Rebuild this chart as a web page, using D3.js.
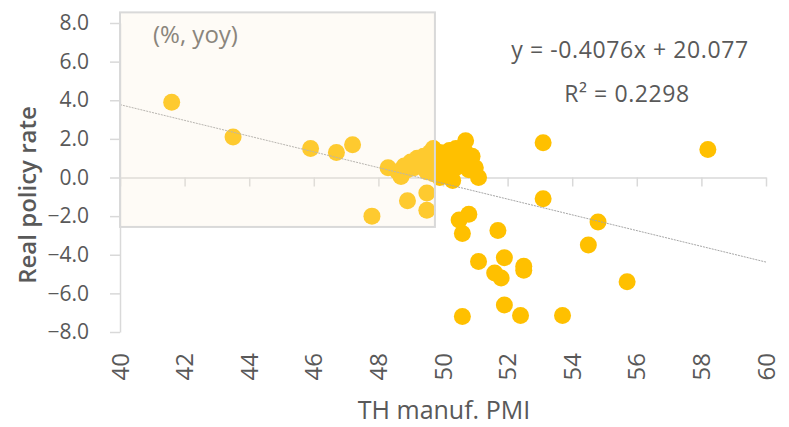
<!DOCTYPE html>
<html lang="en">
<head>
<meta charset="UTF-8">
<title>Real policy rate vs TH manuf. PMI</title>
<script src="https://d3js.org/d3.v7.min.js"></script>
<style>
  body { margin: 0; background: #fff; }
  text { font-family: "Open Sans", "Noto Sans", sans-serif; fill: #595959; }
</style>
</head>
<body>
<script>
// TH manufacturing PMI (x) and real policy rate (y)
var pmi = [
  41.6, 43.5, 45.9, 46.7, 47.2, 47.8, 48.3, 48.7, 48.9, 49.5, 49.5,
  53.1, 58.2, 53.1, 54.8, 54.5, 55.7, 50.5, 50.8, 50.6, 51.7, 51.1,
  51.9, 51.6, 51.8, 52.5, 52.5, 51.9, 52.4, 53.7, 50.6,
  48.6, 48.8, 48.9, 49.0, 49.1, 49.2, 49.3, 49.4, 49.5, 49.5, 49.6,
  49.6, 49.7, 49.7, 49.8, 49.9, 49.9, 50.0, 50.1, 50.2, 50.2, 50.3,
  50.4, 50.4, 50.5, 50.6, 50.7, 50.7, 50.8, 50.9, 51.0, 51.1, 50.3
];
var realRate = [
  3.9, 2.1, 1.5, 1.3, 1.7, -2.0, 0.5, 0.05, -1.2, -1.7, -0.8,
  1.8, 1.45, -1.1, -2.3, -3.5, -5.4, -2.2, -1.9, -2.9, -2.75, -4.35,
  -4.15, -4.95, -5.2, -4.6, -4.8, -6.6, -7.15, -7.15, -7.2,
  0.3, 0.6, 0.4, 0.8, 0.5, 1.0, 0.7, 1.1, 0.3, 0.9, 1.3,
  0.6, 1.5, 0.2, 1.0, 0.0, 1.3, 0.6, 1.2, 0.3, 1.4, 0.9,
  1.5, 0.5, 1.1, 0.7, 1.9, 1.3, 0.4, 1.1, 0.5, 0.0, -0.15
];

var xTicks = [40, 42, 44, 46, 48, 50, 52, 54, 56, 58, 60];
var yTicks = [8, 6, 4, 2, 0, -2, -4, -6, -8];

// linear trend shown on the chart
var slope = -0.4076, intercept = 20.077;
var eqLabel = "y = -0.4076x + 20.077";
var r2Label = "R\u00b2 = 0.2298";

// shaded annotation box (data coords)
var boxX = [40, 49.75], boxY = [-2.56, 8.55];

var width = 789, height = 427;
var x = d3.scaleLinear().domain([40, 60]).range([120, 766]);
var y = d3.scaleLinear().domain([-8, 8]).range([332, 23]);

var svg = d3.select("body").append("svg")
    .attr("width", width)
    .attr("height", height);

var axisColor = "#d9d9d9";

// y axis
var yAxis = svg.append("g")
    .attr("transform", "translate(" + x(40) + ",0)")
    .call(d3.axisLeft(y).tickValues(yTicks).tickSize(10).tickSizeOuter(0).tickPadding(21)
        .tickFormat(d3.format(".1f")));
yAxis.select(".domain").attr("stroke", axisColor).attr("stroke-width", 1.5);
yAxis.selectAll(".tick line").attr("stroke", axisColor).attr("stroke-width", 1.5);
yAxis.selectAll(".tick text").attr("font-size", 21).style("fill", "#595959");

// x axis sits on y = 0, labels at the bottom
var xAxis = svg.append("g")
    .attr("transform", "translate(0," + y(0) + ")")
    .call(d3.axisBottom(x).tickValues(xTicks).tickSize(9).tickSizeOuter(0).tickFormat(""));
xAxis.select(".domain").attr("stroke", axisColor).attr("stroke-width", 1.5);
xAxis.selectAll(".tick line").attr("stroke", axisColor).attr("stroke-width", 1.5);

svg.append("g").selectAll("text")
    .data(xTicks)
    .enter().append("text")
    .attr("transform", function(d) { return "translate(" + (x(d) + 8.5) + ",353) rotate(-90)"; })
    .attr("text-anchor", "end")
    .attr("font-size", 24)
    .text(function(d) { return d; });

// dots
svg.append("g").selectAll("circle")
    .data(pmi)
    .enter().append("circle")
    .attr("cx", function(d) { return x(d); })
    .attr("cy", function(d, i) { return y(realRate[i]); })
    .attr("r", 8.5)
    .style("fill", "#ffc000");

// trend line
svg.append("line")
    .attr("x1", x(40)).attr("y1", y(slope * 40 + intercept))
    .attr("x2", x(60)).attr("y2", y(slope * 60 + intercept))
    .attr("stroke", "#a6a6a6")
    .attr("stroke-width", 1)
    .attr("stroke-dasharray", "2,1");

// annotation box
svg.append("rect")
    .attr("x", x(boxX[0])).attr("y", y(boxY[1]))
    .attr("width", x(boxX[1]) - x(boxX[0]))
    .attr("height", y(boxY[0]) - y(boxY[1]))
    .style("fill", "#fbeed8")
    .style("fill-opacity", 0.22)
    .style("stroke", axisColor)
    .style("stroke-width", 2);

svg.append("text")
    .attr("x", 153).attr("y", 43)
    .attr("font-size", 24)
    .style("fill", "#8a857c")
    .text("(%, yoy)");

// regression labels
svg.append("text")
    .attr("x", 630).attr("y", 58)
    .attr("text-anchor", "middle")
    .attr("font-size", 23)
    .attr("letter-spacing", 0.6)
    .text(eqLabel);
svg.append("text")
    .attr("x", 627).attr("y", 102)
    .attr("text-anchor", "middle")
    .attr("font-size", 23)
    .attr("letter-spacing", 0.6)
    .text(r2Label);

// axis titles
svg.append("text")
    .attr("transform", "translate(36,195) rotate(-90)")
    .attr("text-anchor", "middle")
    .attr("font-size", 24)
    .attr("font-weight", 600)
    .text("Real policy rate");

svg.append("text")
    .attr("x", 444).attr("y", 419)
    .attr("text-anchor", "middle")
    .attr("font-size", 25)
    .text("TH manuf. PMI");
</script>
</body>
</html>
